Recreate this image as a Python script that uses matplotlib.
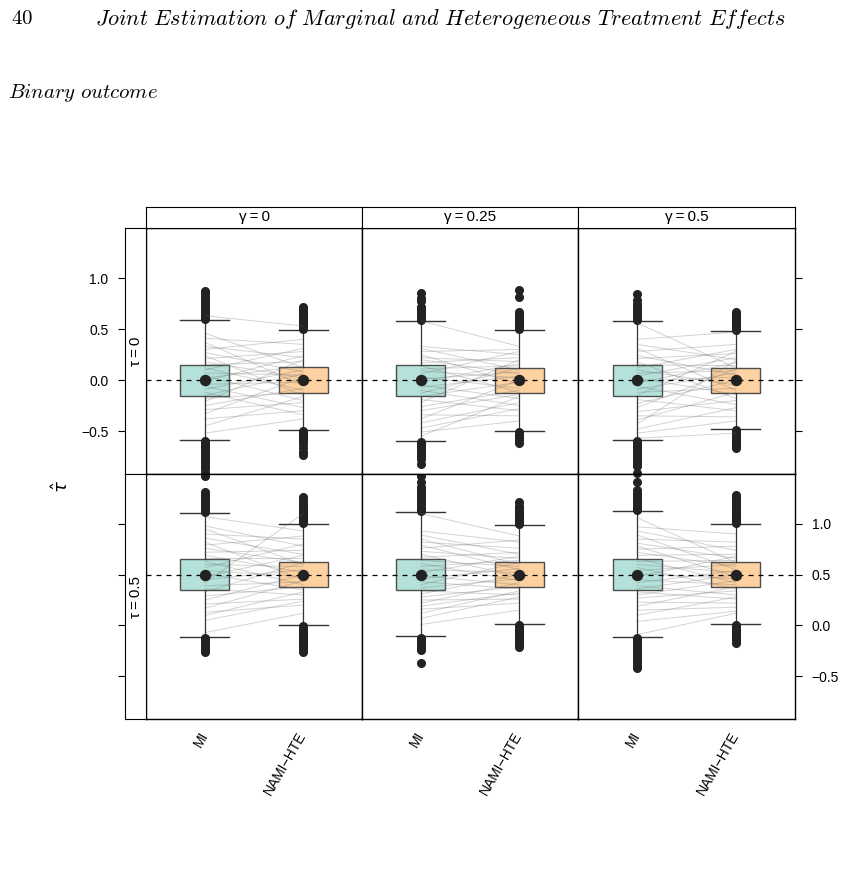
import matplotlib
matplotlib.use("Agg")
import matplotlib.pyplot as plt
import numpy as np

plt.rcParams['font.family'] = ['Liberation Sans', 'DejaVu Sans']

# panel labels
gamma_labels = ["γ\u2009=\u20090", "γ\u2009=\u20090.25", "γ\u2009=\u20090.5"]
tau_labels = ["τ\u2009=\u20090", "τ\u2009=\u20090.5"]
methods = ["MI", "NAMI\u2212HTE"]
true_tau = [0.0, 0.0, 0.0, 0.5, 0.5, 0.5]

# box statistics, panels ordered row by row (tau = 0 first)
mi_q1 = [-0.154, -0.154, -0.154, 0.350, 0.350, 0.350]
mi_med = [0.0, 0.0, 0.0, 0.50, 0.50, 0.50]
mi_q3 = [0.147, 0.150, 0.147, 0.657, 0.657, 0.657]
mi_lo = [-0.59, -0.60, -0.59, -0.11, -0.108, -0.11]
mi_hi = [0.588, 0.58, 0.58, 1.11, 1.12, 1.124]
nami_q1 = [-0.124, -0.127, -0.124, 0.379, 0.379, 0.380]
nami_med = [0.0, 0.0, 0.0, 0.50, 0.50, 0.50]
nami_q3 = [0.124, 0.118, 0.118, 0.627, 0.624, 0.627]
nami_lo = [-0.49, -0.50, -0.48, 0.0, 0.01, 0.013]
nami_hi = [0.49, 0.49, 0.48, 1.0, 0.99, 1.003]

# outliers
mi_out = [
    [0.60, 0.61, 0.63, 0.64, 0.66, 0.67, 0.69, 0.71, 0.73, 0.75, 0.77, 0.79, 0.82, 0.85, 0.87,
     -0.60, -0.62, -0.63, -0.65, -0.67, -0.69, -0.71, -0.73, -0.75, -0.77, -0.79, -0.81, -0.84, -0.87, -0.91],
    [0.59, 0.61, 0.63, 0.65, 0.67, 0.69, 0.71, 0.72, 0.77, 0.80, 0.85,
     -0.61, -0.63, -0.65, -0.67, -0.69, -0.71, -0.73, -0.75, -0.77, -0.82],
    [0.59, 0.61, 0.63, 0.65, 0.67, 0.69, 0.71, 0.73, 0.75, 0.78, 0.84,
     -0.60, -0.62, -0.64, -0.66, -0.68, -0.70, -0.72, -0.74, -0.76, -0.78, -0.80, -0.82, -0.84, -0.91],
    [1.12, 1.14, 1.16, 1.18, 1.20, 1.22, 1.24, 1.26, 1.28, 1.31, 1.47,
     -0.12, -0.14, -0.16, -0.18, -0.20, -0.22, -0.24, -0.26],
    [1.13, 1.15, 1.17, 1.19, 1.21, 1.23, 1.25, 1.27, 1.29, 1.31, 1.33, 1.36, 1.41, 1.47,
     -0.12, -0.14, -0.16, -0.18, -0.20, -0.22, -0.24, -0.37],
    [1.14, 1.16, 1.18, 1.20, 1.22, 1.24, 1.26, 1.28, 1.30, 1.33, 1.41, 1.50,
     -0.12, -0.14, -0.16, -0.18, -0.20, -0.22, -0.24, -0.26, -0.28, -0.30, -0.32, -0.34, -0.37, -0.40, -0.42],
]
nami_out = [
    [0.50, 0.52, 0.54, 0.56, 0.58, 0.60, 0.62, 0.64, 0.66, 0.68, 0.70, 0.72,
     -0.50, -0.52, -0.54, -0.56, -0.58, -0.60, -0.63, -0.67, -0.70, -0.73],
    [0.50, 0.52, 0.54, 0.56, 0.58, 0.60, 0.62, 0.64, 0.67, 0.81, 0.88,
     -0.51, -0.53, -0.55, -0.57, -0.59, -0.62],
    [0.49, 0.51, 0.53, 0.55, 0.57, 0.59, 0.61, 0.63, 0.65, 0.67,
     -0.49, -0.51, -0.53, -0.55, -0.57, -0.59, -0.61, -0.63, -0.65, -0.67],
    [1.01, 1.03, 1.05, 1.07, 1.09, 1.11, 1.13, 1.15, 1.17, 1.19, 1.21, 1.23, 1.26,
     -0.01, -0.03, -0.05, -0.07, -0.09, -0.11, -0.13, -0.15, -0.17, -0.19, -0.21, -0.23, -0.26],
    [1.00, 1.02, 1.04, 1.06, 1.08, 1.10, 1.12, 1.14, 1.16, 1.18, 1.21,
     0.00, -0.02, -0.04, -0.06, -0.08, -0.10, -0.12, -0.14, -0.16, -0.18, -0.21],
    [1.01, 1.03, 1.05, 1.07, 1.09, 1.11, 1.13, 1.15, 1.17, 1.19, 1.21, 1.23, 1.25, 1.28,
     0.00, -0.02, -0.04, -0.06, -0.08, -0.10, -0.12, -0.14, -0.17],
]

# paired estimates (same replicate, MI -> NAMI-HTE)
pair_mi = [
    [0.63, 0.46, 0.41, 0.37, 0.33, 0.30, 0.27, 0.24, 0.21, 0.18, 0.15, 0.12, 0.10, 0.07, 0.04,
     0.02, -0.01, -0.04, -0.06, -0.09, -0.12, -0.15, -0.18, -0.21, -0.25, -0.29, -0.33, -0.38, -0.45, -0.52],
    [0.58, 0.33, 0.31, 0.28, 0.25, 0.22, 0.20, 0.17, 0.14, 0.11, 0.09, 0.06, 0.03, 0.01, -0.02,
     -0.05, -0.07, -0.10, -0.13, -0.16, -0.19, -0.22, -0.26, -0.30, -0.34, -0.38, -0.42, -0.47, -0.51, -0.55],
    [0.56, 0.40, 0.35, 0.31, 0.28, 0.24, 0.21, 0.18, 0.15, 0.12, 0.10, 0.07, 0.04, 0.02, -0.01,
     -0.03, -0.06, -0.09, -0.12, -0.15, -0.19, -0.23, -0.27, -0.31, -0.35, -0.39, -0.43, -0.48, -0.52, -0.57],
    [1.07, 0.98, 0.95, 0.90, 0.86, 0.82, 0.79, 0.76, 0.72, 0.69, 0.66, 0.63, 0.60, 0.57, 0.54,
     0.51, 0.48, 0.45, 0.42, 0.39, 0.36, 0.33, 0.29, 0.25, 0.21, 0.17, 0.13, 0.10, 0.05, -0.07],
    [1.10, 0.93, 0.89, 0.85, 0.82, 0.79, 0.76, 0.73, 0.70, 0.67, 0.64, 0.61, 0.58, 0.55, 0.52,
     0.49, 0.46, 0.43, 0.40, 0.37, 0.34, 0.31, 0.28, 0.25, 0.22, 0.19, 0.16, 0.12, 0.07, 0.01],
    [1.06, 0.97, 0.93, 0.89, 0.85, 0.81, 0.78, 0.75, 0.72, 0.69, 0.66, 0.63, 0.60, 0.57, 0.54,
     0.51, 0.48, 0.45, 0.42, 0.39, 0.36, 0.33, 0.30, 0.27, 0.23, 0.19, 0.15, 0.10, 0.04, -0.09],
]
pair_nami = [
    [0.53, 0.12, 0.35, -0.05, 0.22, 0.40, 0.08, -0.15, 0.28, 0.02, 0.18, -0.10, 0.31, 0.05, -0.20,
     0.14, 0.24, -0.02, -0.27, 0.10, -0.34, 0.06, -0.12, 0.20, -0.08, -0.22, 0.03, -0.30, -0.16, -0.38],
    [0.33, 0.25, 0.10, 0.30, -0.04, 0.18, 0.06, 0.22, -0.12, 0.14, 0.02, 0.28, -0.08, 0.08, 0.16,
     -0.18, 0.04, -0.25, 0.12, -0.02, -0.30, 0.20, -0.10, -0.14, -0.35, 0.00, -0.22, -0.28, -0.40, -0.16],
    [0.12, 0.47, 0.20, -0.10, 0.35, 0.05, 0.26, -0.18, 0.14, 0.30, -0.05, 0.09, 0.22, -0.14, 0.03,
     0.17, -0.24, 0.07, -0.08, 0.28, -0.30, 0.00, 0.11, -0.20, -0.36, -0.12, 0.19, -0.27, -0.40, -0.52],
    [0.93, 0.78, 0.60, 0.85, 0.70, 0.45, 0.88, 0.62, 0.74, 0.52, 0.66, 0.40, 0.58, 0.80, 0.48,
     0.35, 0.69, 0.55, 1.10, 0.43, 0.30, 0.62, 0.38, 0.50, 0.26, 0.44, 0.20, 0.33, 0.24, 0.12],
    [0.88, 0.82, 0.70, 0.60, 0.76, 0.55, 0.84, 0.66, 0.48, 0.72, 0.58, 0.44, 0.64, 0.52, 0.68,
     0.40, 0.56, 0.36, 0.62, 0.46, 0.30, 0.50, 0.38, 0.26, 0.42, 0.32, 0.22, 0.34, 0.28, 0.15],
    [0.62, 0.90, 0.74, 0.55, 0.82, 0.66, 0.48, 0.78, 0.58, 0.70, 0.42, 0.64, 0.52, 0.36, 0.60,
     0.46, 0.68, 0.40, 0.54, 0.30, 0.50, 0.26, 0.44, 0.34, 0.22, 0.38, 0.18, 0.28, 0.14, 0.12],
]

box_colors = ["#b4e2da", "#fdd1a0"]
ytick_labels = ["\u22120.5", "0.0", "0.5", "1.0"]

W, H = 847, 876
fig = plt.figure(figsize=(W / 100, H / 100), dpi=100)


def px_axes(x0, y0, x1, y1):
    return fig.add_axes([x0 / W, 1 - y1 / H, (x1 - x0) / W, (y1 - y0) / H])


col_x = [146, 362, 578, 795]
row_y = [228, 474, 719]
ylim = (-0.92, 1.49)
yt = [-0.5, 0.0, 0.5, 1.0]

for r in range(2):
    for c in range(3):
        k = r * 3 + c
        ax = px_axes(col_x[c], row_y[r], col_x[c + 1], row_y[r + 1])
        stats = [
            dict(med=mi_med[k], q1=mi_q1[k], q3=mi_q3[k], whislo=mi_lo[k], whishi=mi_hi[k], fliers=mi_out[k]),
            dict(med=nami_med[k], q1=nami_q1[k], q3=nami_q3[k], whislo=nami_lo[k], whishi=nami_hi[k], fliers=nami_out[k]),
        ]
        bp = ax.bxp(stats, positions=[1, 2], widths=0.5, capwidths=0.5, patch_artist=True,
                    boxprops=dict(edgecolor="#4d4d4d", linewidth=1.0),
                    whiskerprops=dict(color="#333333", linewidth=0.9),
                    capprops=dict(color="#333333", linewidth=1.0),
                    medianprops=dict(linestyle="none"),
                    flierprops=dict(marker="o", markersize=5.5, markerfacecolor="#222222",
                                    markeredgecolor="#222222"),
                    zorder=2)
        for patch, col in zip(bp["boxes"], box_colors):
            patch.set_facecolor(col)
        xs = np.vstack([np.ones(len(pair_mi[k])), 2 * np.ones(len(pair_nami[k]))])
        ys = np.vstack([pair_mi[k], pair_nami[k]])
        ax.plot(xs, ys, color="#6e6e6e", alpha=0.3, linewidth=0.7, zorder=3)
        ax.axhline(true_tau[k], color="black", linestyle=(0, (4, 4)), linewidth=0.9, zorder=3.5)
        ax.plot([1, 2], [mi_med[k], nami_med[k]], "o", color="#222222", markersize=7.2,
                linestyle="none", zorder=4)
        ax.set_xlim(0.4, 2.6)
        ax.set_ylim(*ylim)
        ax.set_yticks(yt)
        ax.tick_params(axis="y", left=False, labelleft=False, right=False)
        if c == 2:
            ax.tick_params(axis="y", right=True, direction="out", length=5, width=0.8,
                           labelright=(r == 1), labelsize=10, pad=7)
            ax.set_yticklabels(ytick_labels)
        if r == 1:
            ax.set_xticks([1, 2])
            ax.set_xticklabels(methods, rotation=60, ha="right", va="center",
                               rotation_mode="anchor", fontsize=10)
            ax.tick_params(axis="x", length=0, pad=10)
        else:
            ax.set_xticks([])
        for s in ax.spines.values():
            s.set_linewidth(1.0)

        if r == 0:
            st = px_axes(col_x[c], 207, col_x[c + 1], 228)
            st.set_xticks([])
            st.set_yticks([])
            st.text(0.5, 0.5, gamma_labels[c], ha="center", va="center", fontsize=11,
                    transform=st.transAxes)

    # left strip carrying the y axis
    ls = px_axes(125, row_y[r], 146, row_y[r + 1])
    ls.set_ylim(*ylim)
    ls.set_xticks([])
    ls.set_yticks(yt)
    ls.set_yticklabels(ytick_labels)
    ls.tick_params(axis="y", left=True, direction="out", length=5, width=0.8,
                   labelleft=(r == 0), labelsize=10, pad=7)
    ls.text(0.5, 0.5, tau_labels[r], rotation=90, ha="center", va="center", fontsize=11,
            transform=ls.transAxes)

fig.text(62 / W, 1 - 487 / H, r"$\hat{\tau}$", rotation=90, ha="center", va="center",
         fontsize=13, math_fontfamily="dejavusans")

fig.text(11 / W, 1 - 19 / H, r"$\mathrm{40}$", ha="left", va="center", fontsize=15,
         math_fontfamily="cm")
fig.text(440 / W, 1 - 19 / H,
         r"$\mathit{Joint\ Estimation\ of\ Marginal\ and\ Heterogeneous\ Treatment\ Effects}$",
         ha="center", va="center", fontsize=16, math_fontfamily="cm")
fig.text(8 / W, 1 - 93 / H, r"$\mathit{Binary\ outcome}$", ha="left", va="center",
         fontsize=15, math_fontfamily="cm")

plt.savefig("out.png", dpi=100)
